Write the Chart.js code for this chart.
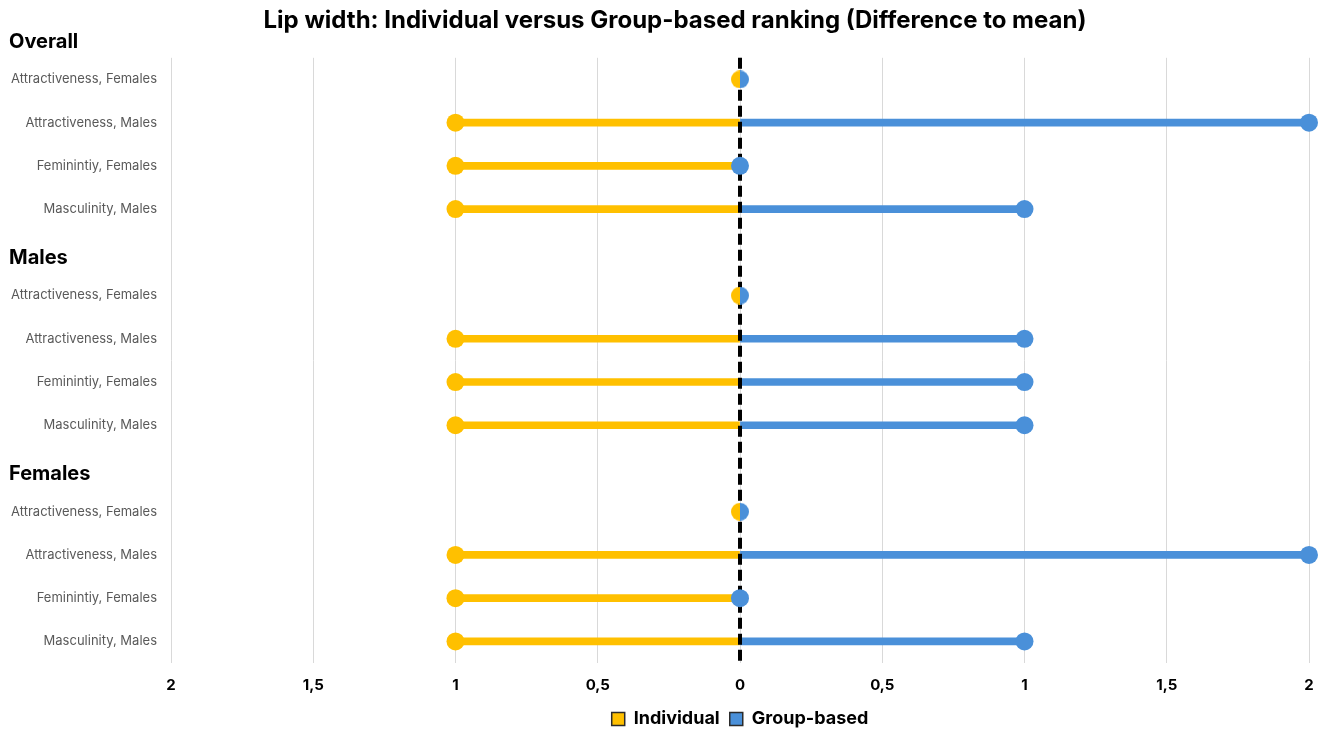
<!DOCTYPE html>
<html>
<head>
<meta charset="utf-8">
<title>Lip width: Individual versus Group-based ranking</title>
<script src="https://cdn.jsdelivr.net/npm/chart.js@4.4.1/dist/chart.umd.min.js"></script>
<style>
  html, body { margin: 0; padding: 0; background: #fff; }
  #wrap { width: 1323px; height: 732px; position: relative; }
</style>
</head>
<body>
<div id="wrap"><canvas id="chart"></canvas></div>
<script>
// ---- data -------------------------------------------------------------
const groupNames = ['Overall', 'Males', 'Females'];
const measures = ['Attractiveness, Females', 'Attractiveness, Males', 'Feminintiy, Females', 'Masculinity, Males'];

const overallIndividual = [0, -1, -1, -1];
const overallGroup      = [0,  2,  0,  1];
const malesIndividual   = [0, -1, -1, -1];
const malesGroup        = [0,  1,  1,  1];
const femalesIndividual = [0, -1, -1, -1];
const femalesGroup      = [0,  2,  0,  1];

const xTickValues = [-2, -1.5, -1, -0.5, 0, 0.5, 1, 1.5, 2];
const xTickLabels = ['2', '1,5', '1', '0,5', '0', '0,5', '1', '1,5', '2'];

const seriesNames = ['Individual', 'Group-based'];

// ---- rows: the first group heading sits above the plot, the others take a row slot
const individualByGroup = [overallIndividual, malesIndividual, femalesIndividual];
const groupByGroup = [overallGroup, malesGroup, femalesGroup];

const rowLabels = [];
const individual = [];
const groupBased = [];
groupNames.forEach((g, gi) => {
  if (gi > 0) { rowLabels.push(g); individual.push(null); groupBased.push(null); }
  measures.forEach((m, mi) => {
    rowLabels.push(m);
    individual.push(individualByGroup[gi][mi]);
    groupBased.push(groupByGroup[gi][mi]);
  });
});

const FONT = 'Inter, Lato, "Open Sans", sans-serif';
const YELLOW = '#FFC000';
const BLUE = '#4A90D9';

// half discs used where both series meet at zero
function halfDisc(color, side, r) {
  const c = document.createElement('canvas');
  c.width = c.height = 2 * r;
  const g = c.getContext('2d');
  g.fillStyle = color;
  g.beginPath();
  if (side === 'left') g.arc(r, r, r, Math.PI / 2, Math.PI * 1.5);
  else g.arc(r, r, r, -Math.PI / 2, Math.PI / 2);
  g.closePath();
  g.fill();
  return c;
}
const leftHalf = halfDisc(YELLOW, 'left', 9);
const rightHalf = halfDisc(BLUE, 'right', 9);
const bothZero = row => individual[row] === 0 && groupBased[row] === 0;

// ---- plugins ------------------------------------------------------------
const groupHeadings = {
  id: 'groupHeadings',
  afterDraw(chart) {
    const y = chart.scales.y;
    const ctx = chart.ctx;
    const band = y.getPixelForValue(1) - y.getPixelForValue(0);
    ctx.save();
    ctx.font = 'bold 20px ' + FONT;
    ctx.fillStyle = '#000';
    ctx.textAlign = 'left';
    ctx.textBaseline = 'middle';
    groupNames.forEach((g, gi) => {
      let py;
      if (gi === 0) py = y.getPixelForValue(0) - band;
      else py = y.getPixelForValue(rowLabels.indexOf(g));
      ctx.fillText(g, 9, py + 6);
    });
    ctx.restore();
  }
};

const zeroLine = {
  id: 'zeroLine',
  beforeDatasetsDraw(chart) { chart.$zeroDone = false; },
  beforeDatasetDraw(chart, args) {
    if (chart.$zeroDone || args.meta.type !== 'line') return;
    chart.$zeroDone = true;
    const x = chart.scales.x.getPixelForValue(0);
    const { top, bottom } = chart.chartArea;
    const ctx = chart.ctx;
    ctx.save();
    ctx.strokeStyle = '#000';
    ctx.lineWidth = 4;
    ctx.setLineDash([11, 5]);
    ctx.beginPath();
    ctx.moveTo(x, top);
    ctx.lineTo(x, bottom);
    ctx.stroke();
    ctx.restore();
  }
};

// the title is centred over the span right of the category labels' left margin
const titleShift = {
  id: 'titleShift',
  afterLayout(chart) {
    if (chart.titleBlock) chart.titleBlock.left = 41;
  }
};

// ---- chart --------------------------------------------------------------
const toBars = arr => arr.map(v => (v === null ? null : [Math.min(v, 0), Math.max(v, 0)]));
const toPoints = arr => arr.map((v, i) => ({ x: v, y: i }));

new Chart(document.getElementById('chart'), {
  type: 'bar',
  data: {
    labels: rowLabels,
    datasets: [
      {
        label: seriesNames[1] + ' marker',
        type: 'line',
        data: toPoints(groupBased),
        showLine: false,
        backgroundColor: BLUE,
        borderColor: BLUE,
        borderWidth: 0,
        pointRadius: 9,
        pointHoverRadius: 9,
        pointStyle: c => (bothZero(c.dataIndex) ? rightHalf : 'circle'),
        clip: false,
        order: 1
      },
      {
        label: seriesNames[0] + ' marker',
        type: 'line',
        data: toPoints(individual),
        showLine: false,
        backgroundColor: YELLOW,
        borderColor: YELLOW,
        borderWidth: 0,
        pointRadius: 9,
        pointHoverRadius: 9,
        pointStyle: c => (bothZero(c.dataIndex) ? leftHalf : 'circle'),
        clip: false,
        order: 2
      },
      {
        label: seriesNames[0],
        data: toBars(individual),
        backgroundColor: YELLOW,
        barThickness: 7,
        grouped: false,
        order: 3
      },
      {
        label: seriesNames[1],
        data: toBars(groupBased),
        backgroundColor: BLUE,
        barThickness: 7,
        grouped: false,
        order: 3
      }
    ]
  },
  options: {
    indexAxis: 'y',
    responsive: true,
    maintainAspectRatio: false,
    animation: false,
    layout: { autoPadding: false, padding: { left: 0, right: 14, top: 0, bottom: -6 } },
    scales: {
      x: {
        type: 'linear',
        min: -2,
        max: 2,
        afterBuildTicks: s => { s.ticks = xTickValues.map(v => ({ value: v })); },
        afterFit: s => { s.height = 37; s.paddingLeft = 0; s.paddingRight = 0; },
        grid: { color: '#d9d9d9', lineWidth: 1, drawTicks: false },
        border: { display: false },
        ticks: {
          padding: 13,
          color: '#000',
          font: { family: FONT, size: 15, weight: 'bold' },
          callback: (v, i) => xTickLabels[i]
        }
      },
      y: {
        type: 'category',
        offset: true,
        afterFit: s => { s.width = 171; },
        grid: { display: false },
        border: { display: false },
        ticks: {
          padding: 6,
          color: '#595959',
          font: { family: FONT, size: 13 },
          callback: function (v, i) {
            const l = rowLabels[i];
            return groupNames.includes(l) ? '' : l;
          }
        }
      }
    },
    plugins: {
      title: {
        display: true,
        text: 'Lip width: Individual versus Group-based ranking (Difference to mean)',
        color: '#000',
        font: { family: FONT, size: 24, weight: 'bold' },
        padding: { top: 6, bottom: 23 }
      },
      legend: {
        position: 'bottom',
        fullSize: false,
        labels: {
          color: '#000',
          font: { family: FONT, size: 18, weight: 'bold' },
          boxWidth: 13,
          boxHeight: 13,
          padding: 10,
          generateLabels: chart => chart.data.datasets
            .map((d, i) => ({ d, i }))
            .filter(o => o.d.type !== 'line')
            .map(o => ({
              text: o.d.label,
              fillStyle: o.d.backgroundColor,
              strokeStyle: '#2b2b2b',
              lineWidth: 1.5,
              hidden: false,
              datasetIndex: o.i,
              fontColor: '#000'
            }))
        }
      },
      tooltip: { enabled: false }
    }
  },
  plugins: [zeroLine, groupHeadings, titleShift]
});
</script>
</body>
</html>
